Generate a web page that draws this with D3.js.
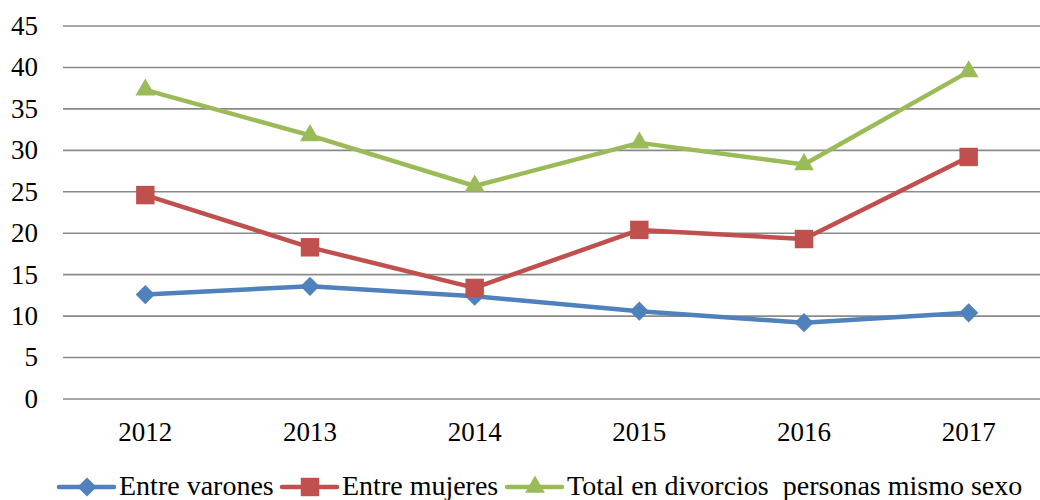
<!DOCTYPE html>
<html>
<head>
<meta charset="utf-8">
<script src="https://cdn.jsdelivr.net/npm/d3@7"></script>
</head>
<body style="margin:0">
<svg id="chart" width="1040" height="500" style="font-family: Liberation Serif"></svg>
<script>
var years = ["2012", "2013", "2014", "2015", "2016", "2017"];
var varones = [12.6, 13.6, 12.4, 10.6, 9.2, 10.4];
var mujeres = [24.6, 18.3, 13.4, 20.4, 19.3, 29.2];
var total = [37.3, 31.8, 25.7, 30.9, 28.3, 39.5];
var yTicks = [0, 5, 10, 15, 20, 25, 30, 35, 40, 45];
var seriesNames = ["Entre varones", "Entre mujeres", "Total en divorcios\u00a0 personas mismo sexo"];

var height = 500;
var margin = { top: 26, left: 63, bottom: 101 };
var plotRight = 1051;

var svg = d3.select("#chart");

var x = d3.scalePoint().domain(years).range([margin.left, plotRight]).padding(0.5);
var y = d3.scaleLinear().domain([0, 45]).range([height - margin.bottom, margin.top]);

// gridlines
svg.append("g").selectAll("line").data(yTicks).enter().append("line")
  .attr("x1", margin.left).attr("x2", plotRight)
  .attr("y1", function (d) { return y(d); })
  .attr("y2", function (d) { return y(d); })
  .attr("stroke", "#8a8a8a").attr("stroke-width", 1.6);

// y labels
svg.append("g").selectAll("text").data(yTicks).enter().append("text")
  .attr("x", 38).attr("y", function (d) { return y(d); })
  .attr("dy", "0.33em").attr("text-anchor", "end")
  .attr("font-size", 27).style("font-family", function () { return "Liberation Serif"; })
  .text(function (d) { return d; });

// x labels
svg.append("g").selectAll("text").data(years).enter().append("text")
  .attr("x", function (d) { return x(d); }).attr("y", 441)
  .attr("text-anchor", "middle")
  .attr("font-size", 27).style("font-family", function () { return "Liberation Serif"; })
  .text(function (d) { return d; });

var series = [
  { name: seriesNames[0], values: varones, color: "#4f81bd", shape: "diamond" },
  { name: seriesNames[1], values: mujeres, color: "#c0504d", shape: "square" },
  { name: seriesNames[2], values: total, color: "#9bbb59", shape: "triangle" }
];

function markerPath(shape) {
  if (shape === "diamond") return d3.symbol().type(d3.symbolSquare).size(185)();
  if (shape === "square") return d3.symbol().type(d3.symbolSquare).size(340)();
  return d3.symbol().type(d3.symbolTriangle).size(170)();
}
function markerRot(shape) { return shape === "diamond" ? " rotate(45)" : ""; }

var line = d3.line()
  .x(function (d, i) { return x(years[i]); })
  .y(function (d) { return y(d); });

series.forEach(function (s) {
  var g = svg.append("g");
  g.append("path").datum(s.values)
    .attr("d", line).attr("fill", "none")
    .attr("stroke", s.color).attr("stroke-width", 4.5)
    .attr("stroke-linejoin", "round").attr("stroke-linecap", "round");
  g.selectAll("path.m").data(s.values).enter().append("path")
    .attr("class", "m")
    .attr("d", markerPath(s.shape))
    .attr("transform", function (d, i) {
      return "translate(" + x(years[i]) + "," + y(d) + ")" + markerRot(s.shape);
    })
    .attr("fill", s.color);
});

// legend
var legendX = [59, 282, 507];
var legendY = 487;
series.forEach(function (s, i) {
  var lg = svg.append("g").attr("transform", "translate(" + legendX[i] + "," + legendY + ")");
  lg.append("line").attr("x1", 0).attr("x2", 55).attr("y1", 0).attr("y2", 0)
    .attr("stroke", s.color).attr("stroke-width", 4.5).attr("stroke-linecap", "round");
  lg.append("path").attr("d", markerPath(s.shape))
    .attr("transform", "translate(28,0)" + markerRot(s.shape))
    .attr("fill", s.color);
  lg.append("text").attr("x", 60).attr("y", 8)
    .attr("font-size", 28).style("font-family", function () { return "Liberation Serif"; })
    .text(s.name);
});
</script>
</body>
</html>
